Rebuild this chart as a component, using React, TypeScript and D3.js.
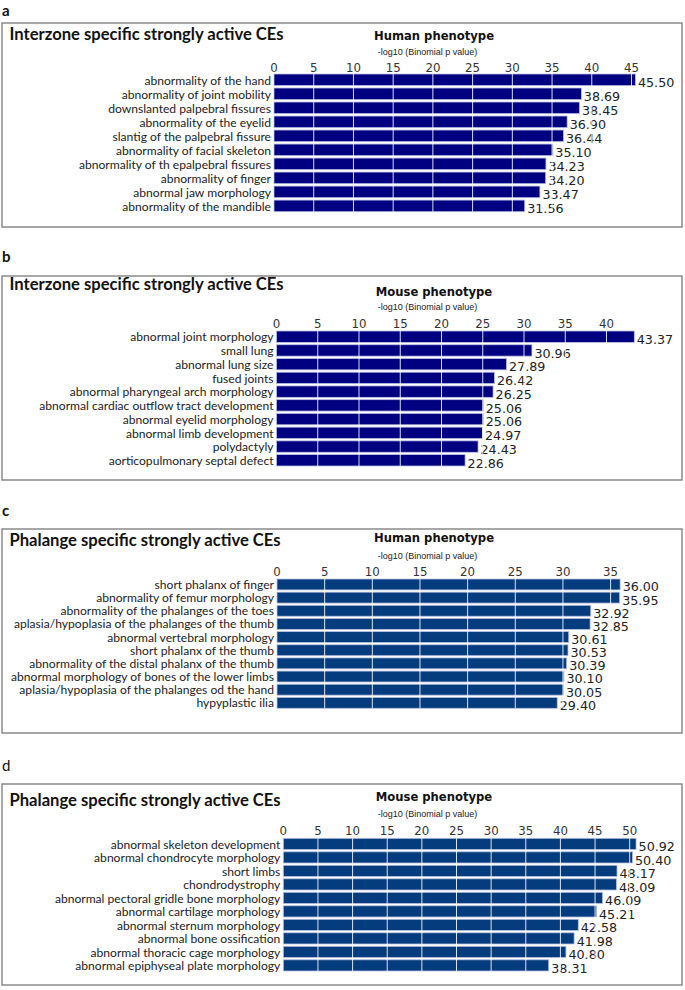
import React from "react";
import * as d3 from "d3";

// ---------- data ----------
const aCategories = [
  "abnormality of the hand",
  "abnormality of joint mobility",
  "downslanted palpebral fissures",
  "abnormality of the eyelid",
  "slantig of the palpebral fissure",
  "abnormality of facial skeleton",
  "abnormality of th epalpebral fissures",
  "abnormality of finger",
  "abnormal jaw morphology",
  "abnormality of the mandible",
];
const aValues = [45.5, 38.69, 38.45, 36.9, 36.44, 35.1, 34.23, 34.2, 33.47, 31.56];
const aTicks = [0, 5, 10, 15, 20, 25, 30, 35, 40, 45];

const bCategories = [
  "abnormal joint morphology",
  "small lung",
  "abnormal lung size",
  "fused joints",
  "abnormal pharyngeal arch morphology",
  "abnormal cardiac outflow tract development",
  "abnormal eyelid morphology",
  "abnormal limb development",
  "polydactyly",
  "aorticopulmonary septal defect",
];
const bValues = [43.37, 30.96, 27.89, 26.42, 26.25, 25.06, 25.06, 24.97, 24.43, 22.86];
const bTicks = [0, 5, 10, 15, 20, 25, 30, 35, 40];

const cCategories = [
  "short phalanx of finger",
  "abnormality of femur morphology",
  "abnormality of the phalanges of the toes",
  "aplasia/hypoplasia of the phalanges of the thumb",
  "abnormal vertebral morphology",
  "short phalanx of the thumb",
  "abnormality of the distal phalanx of the thumb",
  "abnormal morphology of bones of the lower limbs",
  "aplasia/hypoplasia of the phalanges od the hand",
  "hypyplastic ilia",
];
const cValues = [36.0, 35.95, 32.92, 32.85, 30.61, 30.53, 30.39, 30.1, 30.05, 29.4];
const cTicks = [0, 5, 10, 15, 20, 25, 30, 35];

const dCategories = [
  "abnormal skeleton development",
  "abnormal chondrocyte morphology",
  "short limbs",
  "chondrodystrophy",
  "abnormal pectoral gridle bone morphology",
  "abnormal cartilage morphology",
  "abnormal sternum morphology",
  "abnormal bone ossification",
  "abnormal thoracic cage morphology",
  "abnormal epiphyseal plate morphology",
];
const dValues = [50.92, 50.4, 48.17, 48.09, 46.09, 45.21, 42.58, 41.98, 40.8, 38.31];
const dTicks = [0, 5, 10, 15, 20, 25, 30, 35, 40, 45, 50];

const panelLetters = ["a", "b", "c", "d"];
const panelTitles = [
  "Interzone specific strongly active CEs",
  "Interzone specific strongly active CEs",
  "Phalange specific strongly active CEs",
  "Phalange specific strongly active CEs",
];
const panelPhenotypes = ["Human phenotype", "Mouse phenotype", "Human phenotype", "Mouse phenotype"];
const axisTitle = "-log10 (Binomial p value)";

// ---------- layout ----------
const layouts = [
  { letterY: 15.5, letterBold: true, boxTop: 23, boxBottom: 227, titleY: 40, phenoY: 40, subY: 54.5, tickY: 71.5, x0: 274, x1: 631.5, barTop: 74, barBottom: 211.7, color: "#000080" },
  { letterY: 262, letterBold: true, boxTop: 276, boxBottom: 480, titleY: 290, phenoY: 296, subY: 310, tickY: 328, x0: 276.5, x1: 606.5, barTop: 331, barBottom: 466, color: "#000080" },
  { letterY: 516, letterBold: true, boxTop: 529, boxBottom: 733, titleY: 545.5, phenoY: 542, subY: 558.5, tickY: 576, x0: 277, x1: 610.6, barTop: 579, barBottom: 708.3, color: "#053c7d" },
  { letterY: 771, letterBold: false, boxTop: 784, boxBottom: 985, titleY: 805.5, phenoY: 801, subY: 817, tickY: 835, x0: 283.3, x1: 629.7, barTop: 838.3, barBottom: 971, color: "#053c7d" },
];

const allCategories = [aCategories, bCategories, cCategories, dCategories];
const allValues = [aValues, bValues, cValues, dValues];
const allTicks = [aTicks, bTicks, cTicks, dTicks];

const LABEL_FONT = "Lato, 'Open Sans', sans-serif";
const NUM_FONT = "'DejaVu Sans', sans-serif";

function Panel({ i }: { i: number }) {
  const L = layouts[i];
  const cats = allCategories[i];
  const vals = allValues[i];
  const ticks = allTicks[i];
  const maxTick = ticks[ticks.length - 1];
  const x = d3.scaleLinear().domain([0, maxTick]).range([L.x0, L.x1]);
  const y = d3
    .scaleBand<string>()
    .domain(cats)
    .range([L.barTop, L.barBottom])
    .paddingInner(0.17)
    .paddingOuter(0);
  const bw = y.bandwidth();
  const phenoX = 434;
  const subX = 427.5;
  return (
    <g>
      <text
        x={2}
        y={L.letterY}
        fontFamily={LABEL_FONT}
        fontWeight={L.letterBold ? 700 : 400}
        fontSize={15}
        fill="#111"
      >
        {panelLetters[i]}
      </text>
      <rect x={2} y={L.boxTop} width={680} height={L.boxBottom - L.boxTop} fill="#fff" stroke="#8a8a8a" strokeWidth={1.5} />
      <text x={9.5} y={L.titleY} fontFamily={LABEL_FONT} fontWeight={700} fontSize={16.6} fill="#111">
        {panelTitles[i]}
      </text>
      <text x={phenoX} y={L.phenoY} textAnchor="middle" fontFamily={NUM_FONT} fontWeight={700} fontSize={11.6} fill="#111">
        {panelPhenotypes[i]}
      </text>
      <text x={subX} y={L.subY} textAnchor="middle" fontFamily="'Liberation Sans', Arial, sans-serif" fontSize={9} fill="#222">
        {axisTitle}
      </text>
      {ticks.map((t) => (
        <text key={"t" + t} x={x(t)} y={L.tickY} textAnchor="middle" fontFamily={NUM_FONT} fontSize={11.8} fill="#333">
          {t}
        </text>
      ))}
      {cats.map((c, j) => {
        const yy = y(c) as number;
        return (
          <g key={c + j}>
            <rect x={x(0)} y={yy} width={x(vals[j]) - x(0)} height={bw} fill={L.color} stroke="#b9c0e0" strokeWidth={0.8} />
            <text x={x(0) - 3} y={yy + bw - 1} textAnchor="end" fontFamily={LABEL_FONT} fontSize={12.1} fill="#222">
              {c}
            </text>
            <text x={x(vals[j]) + 2.5} y={yy + bw + 1.5} fontFamily={NUM_FONT} fontSize={12.7} fill="#222">
              {vals[j].toFixed(2)}
            </text>
          </g>
        );
      })}
      {ticks
        .filter((t) => t > 0)
        .map((t) => (
          <line
            key={"g" + t}
            x1={x(t)}
            x2={x(t)}
            y1={L.barTop}
            y2={L.barBottom}
            stroke="#ffffff"
            strokeOpacity={0.85}
            strokeWidth={1}
          />
        ))}
    </g>
  );
}

export default function App() {
  return (
    <svg
      width={685}
      height={990}
      style={{ position: "absolute", left: 0, top: 0, background: "#fff" }}
    >
      <rect x={0} y={0} width={685} height={990} fill="#fff" />
      {layouts.map((_, i) => (
        <Panel key={i} i={i} />
      ))}
    </svg>
  );
}
